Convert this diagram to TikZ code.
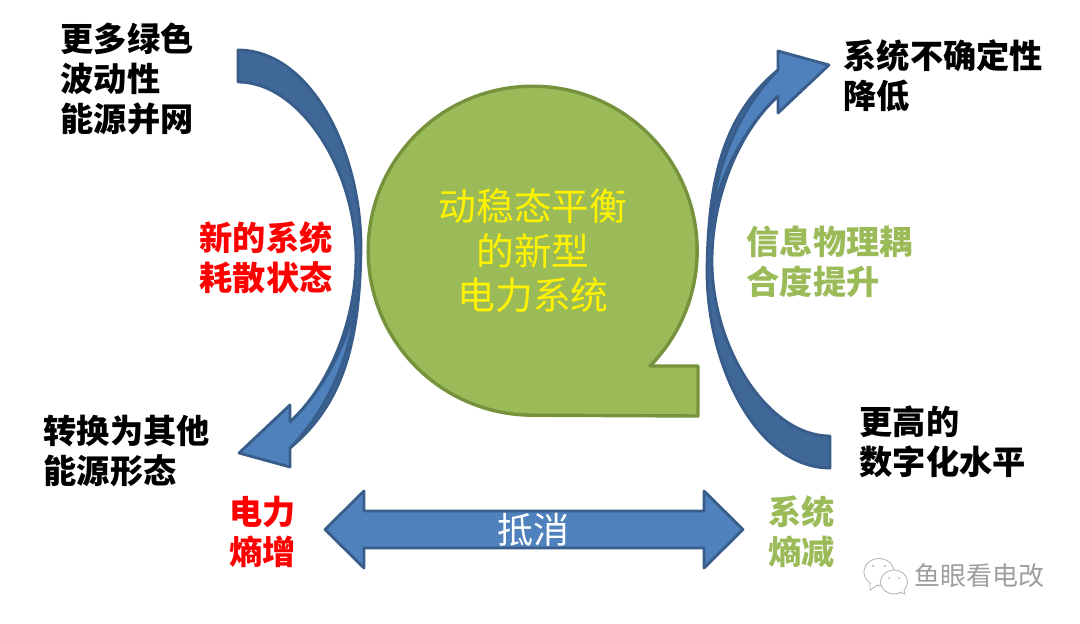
\documentclass[tikz,border=0pt]{standalone}
\usepackage{fontspec}
\setmainfont{Noto Sans CJK SC}
\definecolor{blueface}{HTML}{4F81BD}
\definecolor{bluedark}{HTML}{3F6797}
\definecolor{blueedge}{HTML}{385D8A}
\definecolor{greenface}{HTML}{9BBB59}
\definecolor{greenedge}{HTML}{76923C}
\tikzset{
    bluepart/.style={draw=blueedge, line width=2.8pt, line join=round},
    greenpart/.style={draw=greenedge, fill=greenface, line width=3.4pt, line join=round},
    heavylabel/.style={font=\fontsize{33.2}{40}\selectfont\bfseries, align=left, inner sep=0pt},
    bigtext/.style={font=\fontsize{37.8}{44.5}\selectfont, align=center, inner sep=0pt, text=yellow},
    smalltext/.style={font=\fontsize{26}{30}\selectfont, text=black!38, inner sep=0pt}
}
\newcommand{\bentarrow}{
    \draw[bluepart, fill=bluedark] (238,50) .. controls (310,50) and (361,150) .. (361,247)
        .. controls (360,345) and (342,405) .. (290,448) -- (290,422)
        .. controls (330,385) and (356,320) .. (356,257)
        .. controls (356,170) and (300,82) .. (238,82) -- cycle;
    \fill[blueface] (358,285) .. controls (355,340) and (335,402) .. (290,448)
        -- (290,467) -- (239,453) -- (290,405) -- (290,422)
        .. controls (330,385) and (355,325) .. (358,285) -- cycle;
    \draw[bluepart] (358,285) .. controls (355,340) and (335,402) .. (290,448)
        -- (290,467) -- (239,453) -- (290,405) -- (290,422)
        .. controls (330,385) and (355,325) .. (358,285);
}
\begin{document}
\begin{tikzpicture}[x=1pt, y=-1pt]
    \useasboundingbox (0,0) rectangle (1080,624);
    \draw[greenpart] (650,366) arc[start angle=44.5, end angle=-270, radius=164.5] -- (698,416) -- (698,366) -- cycle;
    \bentarrow
    \begin{scope}[shift={(1068,518)}, scale=-1]
        \bentarrow
    \end{scope}
    \draw[bluepart, fill=blueface] (325,529.5) -- (364,491) -- (364,511) -- (704,511) -- (704,491) -- (743,529.5)
        -- (704,568) -- (704,548) -- (364,548) -- (364,568) -- cycle;

    \node[bigtext] (centretext) at (533,251) {动稳态平衡\\的新型\\电力系统};
    \node[heavylabel, anchor=west] (moregreen) at (60.5,79) {更多绿色\\波动性\\能源并网};
    \node[heavylabel, anchor=west] (uncertain) at (843.5,76) {系统不确定性\\降低};
    \node[heavylabel, anchor=west] (digital) at (859.5,442) {更高的\\数字化水平};
    \node[heavylabel, anchor=west] (convert) at (43.5,451) {转换为其他\\能源形态};
    \node[heavylabel, anchor=west, text=red] (dissipate) at (199.5,258) {新的系统\\耗散状态};
    \node[heavylabel, anchor=west, text=greenface] (coupling) at (746.5,262) {信息物理耦\\合度提升};
    \node[heavylabel, anchor=west, text=red] (entropyup) at (229,532) {电力\\熵增};
    \node[heavylabel, anchor=west, text=greenface] (entropydown) at (768.5,532) {系统\\熵减};
    \node[font=\fontsize{36}{40}\selectfont, text=white, inner sep=0pt] (offset) at (533.5,530) {抵消};

    \draw[black!30, fill=white, line width=0.8pt] (879,572) circle[x radius=15, y radius=13.5];
    \draw[black!30, fill=white, line width=0.8pt] (870,583) -- (870,590) -- (878,585);
    \draw[black!30, fill=white, line width=0.8pt] (894,582) circle[x radius=13.5, y radius=12];
    \draw[black!30, fill=white, line width=0.8pt] (899,592) -- (905,594) -- (904,590);
    \fill[black!30] (873,566) circle[radius=1.2] (885,566) circle[radius=1.2] (889,578) circle[radius=1] (899,578) circle[radius=1];
    \node[smalltext, anchor=west] (account) at (914,576) {鱼眼看电改};
\end{tikzpicture}
\end{document}
